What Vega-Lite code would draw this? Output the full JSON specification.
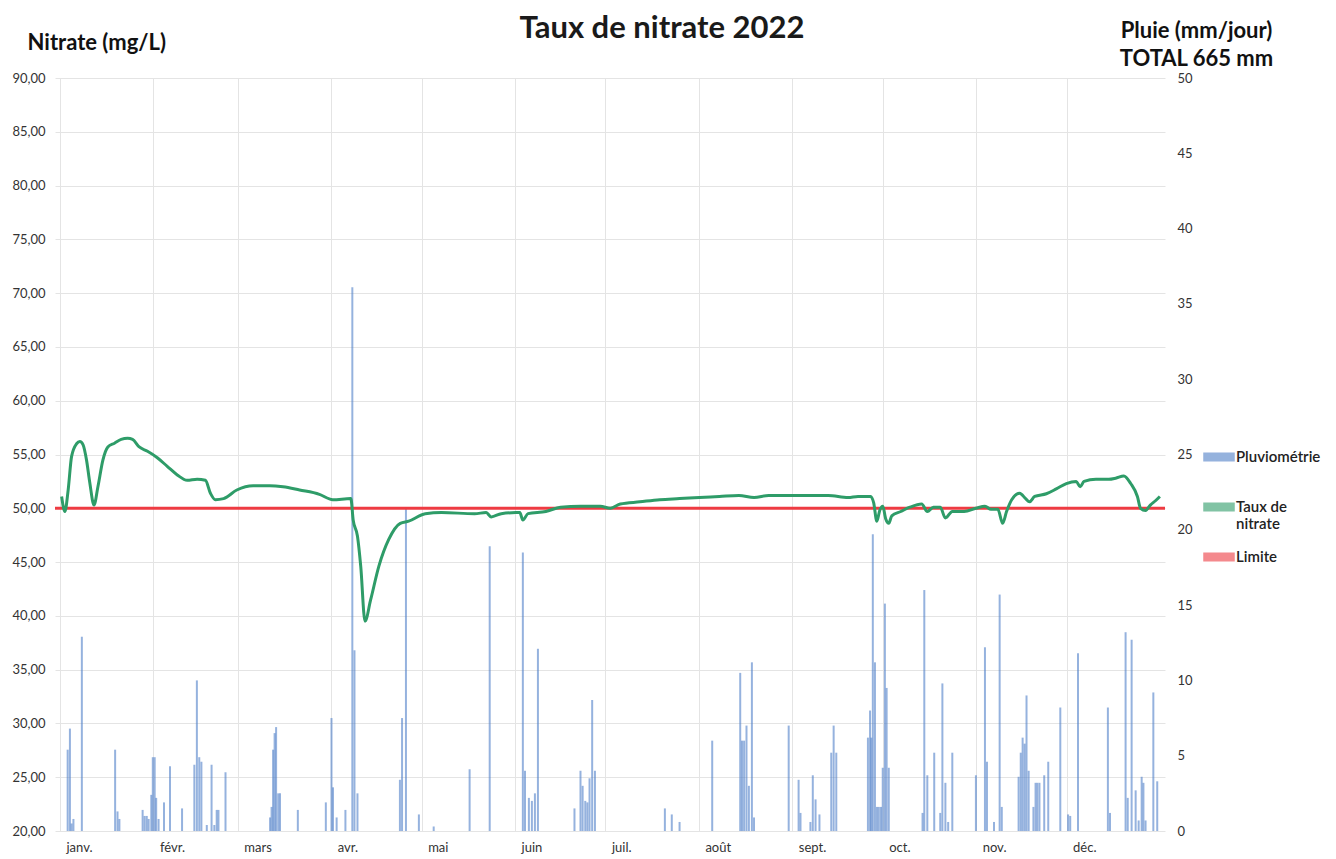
{
  "$schema": "https://vega.github.io/schema/vega-lite/v6.json",
  "width": 1110,
  "height": 753,
  "autosize": {"type": "none"},
  "padding": {"left": 55, "top": 78, "right": 171, "bottom": 28},
  "background": "white",
  "config": {
    "font": "Lato",
    "view": {"stroke": null},
    "axis": {"labelFont": "Lato", "titleFont": "Lato"}
  },
  "title": {
    "text": "Taux de nitrate 2022",
    "font": "Lato",
    "fontSize": 31,
    "fontWeight": "bold",
    "color": "#1a1a1a",
    "anchor": "middle",
    "frame": "group",
    "dx": 52,
    "dy": 36,
    "offset": 10
  },
  "datasets": {
    "pluie": [
      {"date": "2022-01-03T13:00", "mm": 5.4},
      {"date": "2022-01-04T07:00", "mm": 6.8},
      {"date": "2022-01-04T20:00", "mm": 0.5},
      {"date": "2022-01-05T11:00", "mm": 0.8},
      {"date": "2022-01-08T06:00", "mm": 12.9},
      {"date": "2022-01-19T07:00", "mm": 5.4},
      {"date": "2022-01-20T02:00", "mm": 1.3},
      {"date": "2022-01-20T17:00", "mm": 0.8},
      {"date": "2022-01-28T10:00", "mm": 1.4},
      {"date": "2022-01-29T02:00", "mm": 1.0},
      {"date": "2022-01-29T19:00", "mm": 1.0},
      {"date": "2022-01-30T10:00", "mm": 0.8},
      {"date": "2022-01-31T07:00", "mm": 2.4},
      {"date": "2022-01-31T19:00", "mm": 4.9},
      {"date": "2022-02-01T10:00", "mm": 4.9},
      {"date": "2022-02-01T22:00", "mm": 2.2},
      {"date": "2022-02-02T17:00", "mm": 0.8},
      {"date": "2022-02-04T12:00", "mm": 1.9},
      {"date": "2022-02-06T12:00", "mm": 4.3},
      {"date": "2022-02-10T12:00", "mm": 1.5},
      {"date": "2022-02-14T14:00", "mm": 4.4},
      {"date": "2022-02-15T10:00", "mm": 10.0},
      {"date": "2022-02-16T05:00", "mm": 4.9},
      {"date": "2022-02-16T22:00", "mm": 4.6},
      {"date": "2022-02-18T17:00", "mm": 0.4},
      {"date": "2022-02-20T07:00", "mm": 4.4},
      {"date": "2022-02-21T05:00", "mm": 0.4},
      {"date": "2022-02-22T00:00", "mm": 1.4},
      {"date": "2022-02-22T14:00", "mm": 1.4},
      {"date": "2022-02-24T22:00", "mm": 3.9},
      {"date": "2022-03-11T17:00", "mm": 0.9},
      {"date": "2022-03-12T05:00", "mm": 1.6},
      {"date": "2022-03-12T17:00", "mm": 5.4},
      {"date": "2022-03-13T05:00", "mm": 6.5},
      {"date": "2022-03-13T17:00", "mm": 6.9},
      {"date": "2022-03-14T10:00", "mm": 2.5},
      {"date": "2022-03-15T00:00", "mm": 2.5},
      {"date": "2022-03-20T22:00", "mm": 1.4},
      {"date": "2022-03-30T05:00", "mm": 1.9},
      {"date": "2022-04-01T02:00", "mm": 7.5},
      {"date": "2022-04-01T14:00", "mm": 2.9},
      {"date": "2022-04-02T19:00", "mm": 0.9},
      {"date": "2022-04-05T17:00", "mm": 1.4},
      {"date": "2022-04-08T00:00", "mm": 36.1},
      {"date": "2022-04-08T17:00", "mm": 12.0},
      {"date": "2022-04-09T17:00", "mm": 2.5},
      {"date": "2022-04-23T19:00", "mm": 3.4},
      {"date": "2022-04-24T12:00", "mm": 7.5},
      {"date": "2022-04-25T19:00", "mm": 21.4},
      {"date": "2022-04-30T02:00", "mm": 1.1},
      {"date": "2022-05-05T00:00", "mm": 0.3},
      {"date": "2022-05-16T22:00", "mm": 4.1},
      {"date": "2022-05-23T14:00", "mm": 18.9},
      {"date": "2022-06-03T14:00", "mm": 18.5},
      {"date": "2022-06-04T07:00", "mm": 4.0},
      {"date": "2022-06-05T14:00", "mm": 2.2},
      {"date": "2022-06-06T14:00", "mm": 2.0},
      {"date": "2022-06-07T14:00", "mm": 2.5},
      {"date": "2022-06-08T14:00", "mm": 12.1},
      {"date": "2022-06-20T17:00", "mm": 1.5},
      {"date": "2022-06-22T17:00", "mm": 4.0},
      {"date": "2022-06-23T10:00", "mm": 3.0},
      {"date": "2022-06-24T07:00", "mm": 2.0},
      {"date": "2022-06-25T00:00", "mm": 1.9},
      {"date": "2022-06-25T17:00", "mm": 3.5},
      {"date": "2022-06-26T14:00", "mm": 8.7},
      {"date": "2022-06-27T12:00", "mm": 4.0},
      {"date": "2022-07-20T17:00", "mm": 1.5},
      {"date": "2022-07-23T00:00", "mm": 1.1},
      {"date": "2022-07-25T14:00", "mm": 0.6},
      {"date": "2022-08-05T10:00", "mm": 6.0},
      {"date": "2022-08-14T17:00", "mm": 10.5},
      {"date": "2022-08-15T07:00", "mm": 6.0},
      {"date": "2022-08-16T00:00", "mm": 6.0},
      {"date": "2022-08-16T19:00", "mm": 7.0},
      {"date": "2022-08-17T14:00", "mm": 3.0},
      {"date": "2022-08-18T14:00", "mm": 11.2},
      {"date": "2022-08-19T07:00", "mm": 0.9},
      {"date": "2022-08-30T19:00", "mm": 7.0},
      {"date": "2022-09-03T02:00", "mm": 3.4},
      {"date": "2022-09-03T17:00", "mm": 1.2},
      {"date": "2022-09-07T00:00", "mm": 0.6},
      {"date": "2022-09-07T19:00", "mm": 3.7},
      {"date": "2022-09-08T17:00", "mm": 2.1},
      {"date": "2022-09-10T00:00", "mm": 1.1},
      {"date": "2022-09-13T22:00", "mm": 5.2},
      {"date": "2022-09-14T17:00", "mm": 7.0},
      {"date": "2022-09-15T14:00", "mm": 5.2},
      {"date": "2022-09-26T02:00", "mm": 6.2},
      {"date": "2022-09-26T19:00", "mm": 8.0},
      {"date": "2022-09-27T05:00", "mm": 6.2},
      {"date": "2022-09-27T17:00", "mm": 19.7},
      {"date": "2022-09-28T10:00", "mm": 11.2},
      {"date": "2022-09-29T02:00", "mm": 1.6},
      {"date": "2022-09-29T17:00", "mm": 1.6},
      {"date": "2022-09-30T10:00", "mm": 1.6},
      {"date": "2022-10-01T00:00", "mm": 4.2},
      {"date": "2022-10-01T17:00", "mm": 15.1},
      {"date": "2022-10-02T07:00", "mm": 9.5},
      {"date": "2022-10-03T00:00", "mm": 4.2},
      {"date": "2022-10-14T05:00", "mm": 1.2},
      {"date": "2022-10-14T19:00", "mm": 16.0},
      {"date": "2022-10-15T19:00", "mm": 3.7},
      {"date": "2022-10-18T02:00", "mm": 5.2},
      {"date": "2022-10-20T02:00", "mm": 1.2},
      {"date": "2022-10-20T19:00", "mm": 9.8},
      {"date": "2022-10-21T19:00", "mm": 3.2},
      {"date": "2022-10-22T17:00", "mm": 0.6},
      {"date": "2022-10-24T02:00", "mm": 5.2},
      {"date": "2022-10-31T22:00", "mm": 3.7},
      {"date": "2022-11-03T22:00", "mm": 12.2},
      {"date": "2022-11-04T14:00", "mm": 4.6},
      {"date": "2022-11-06T22:00", "mm": 0.6},
      {"date": "2022-11-08T19:00", "mm": 15.7},
      {"date": "2022-11-09T12:00", "mm": 1.6},
      {"date": "2022-11-15T02:00", "mm": 3.6},
      {"date": "2022-11-15T19:00", "mm": 5.2},
      {"date": "2022-11-16T10:00", "mm": 6.2},
      {"date": "2022-11-17T02:00", "mm": 5.8},
      {"date": "2022-11-17T17:00", "mm": 9.0},
      {"date": "2022-11-18T10:00", "mm": 4.0},
      {"date": "2022-11-20T00:00", "mm": 1.6},
      {"date": "2022-11-20T17:00", "mm": 3.2},
      {"date": "2022-11-21T07:00", "mm": 3.2},
      {"date": "2022-11-22T00:00", "mm": 3.2},
      {"date": "2022-11-23T14:00", "mm": 3.7},
      {"date": "2022-11-24T22:00", "mm": 4.6},
      {"date": "2022-11-28T22:00", "mm": 8.2},
      {"date": "2022-12-01T12:00", "mm": 1.1},
      {"date": "2022-12-02T05:00", "mm": 1.0},
      {"date": "2022-12-04T19:00", "mm": 11.8},
      {"date": "2022-12-14T17:00", "mm": 8.2},
      {"date": "2022-12-15T10:00", "mm": 1.2},
      {"date": "2022-12-20T14:00", "mm": 13.2},
      {"date": "2022-12-21T07:00", "mm": 2.2},
      {"date": "2022-12-22T14:00", "mm": 12.7},
      {"date": "2022-12-23T22:00", "mm": 2.7},
      {"date": "2022-12-24T22:00", "mm": 0.7},
      {"date": "2022-12-25T22:00", "mm": 3.6},
      {"date": "2022-12-26T12:00", "mm": 3.2},
      {"date": "2022-12-27T05:00", "mm": 0.7},
      {"date": "2022-12-29T19:00", "mm": 9.2},
      {"date": "2022-12-31T02:00", "mm": 3.3}
    ],
    "nitrate": [
      {"date": "2022-01-01T13:00", "nitrate": 51.1},
      {"date": "2022-01-02T15:00", "nitrate": 49.7},
      {"date": "2022-01-03T17:00", "nitrate": 51.7},
      {"date": "2022-01-04T20:00", "nitrate": 54.8},
      {"date": "2022-01-06T12:00", "nitrate": 56.0},
      {"date": "2022-01-07T14:00", "nitrate": 56.2},
      {"date": "2022-01-08T16:00", "nitrate": 55.9},
      {"date": "2022-01-09T19:00", "nitrate": 54.5},
      {"date": "2022-01-10T21:00", "nitrate": 52.4},
      {"date": "2022-01-12T07:00", "nitrate": 50.3},
      {"date": "2022-01-13T14:00", "nitrate": 52.0},
      {"date": "2022-01-15T06:00", "nitrate": 54.5},
      {"date": "2022-01-16T21:00", "nitrate": 55.7},
      {"date": "2022-01-19T02:00", "nitrate": 56.05},
      {"date": "2022-01-21T07:00", "nitrate": 56.4},
      {"date": "2022-01-23T11:00", "nitrate": 56.5},
      {"date": "2022-01-25T02:00", "nitrate": 56.4},
      {"date": "2022-01-27T07:00", "nitrate": 55.7},
      {"date": "2022-01-30T01:00", "nitrate": 55.3},
      {"date": "2022-02-02T07:00", "nitrate": 54.7},
      {"date": "2022-02-05T14:00", "nitrate": 53.9},
      {"date": "2022-02-08T22:00", "nitrate": 53.1},
      {"date": "2022-02-12T05:00", "nitrate": 52.6},
      {"date": "2022-02-15T12:00", "nitrate": 52.7},
      {"date": "2022-02-18T06:00", "nitrate": 52.6},
      {"date": "2022-02-19T22:00", "nitrate": 51.4},
      {"date": "2022-02-21T13:00", "nitrate": 50.8},
      {"date": "2022-02-24T07:00", "nitrate": 50.9},
      {"date": "2022-02-28T16:00", "nitrate": 51.7},
      {"date": "2022-03-06T02:00", "nitrate": 52.1},
      {"date": "2022-03-11T14:00", "nitrate": 52.1},
      {"date": "2022-03-16T00:00", "nitrate": 52.0},
      {"date": "2022-03-21T12:00", "nitrate": 51.7},
      {"date": "2022-03-28T02:00", "nitrate": 51.3},
      {"date": "2022-04-01T12:00", "nitrate": 50.8},
      {"date": "2022-04-07T12:00", "nitrate": 50.9},
      {"date": "2022-04-08T07:00", "nitrate": 48.9},
      {"date": "2022-04-09T17:00", "nitrate": 47.4},
      {"date": "2022-04-10T19:00", "nitrate": 44.6},
      {"date": "2022-04-12T05:00", "nitrate": 39.5},
      {"date": "2022-04-14T02:00", "nitrate": 41.5},
      {"date": "2022-04-16T19:00", "nitrate": 44.6},
      {"date": "2022-04-20T02:00", "nitrate": 47.1},
      {"date": "2022-04-23T22:00", "nitrate": 48.6},
      {"date": "2022-04-26T17:00", "nitrate": 48.8},
      {"date": "2022-05-02T05:00", "nitrate": 49.5},
      {"date": "2022-05-07T14:00", "nitrate": 49.6},
      {"date": "2022-05-18T14:00", "nitrate": 49.5},
      {"date": "2022-05-22T10:00", "nitrate": 49.6},
      {"date": "2022-05-24T02:00", "nitrate": 49.2},
      {"date": "2022-05-27T10:00", "nitrate": 49.5},
      {"date": "2022-06-01T07:00", "nitrate": 49.6},
      {"date": "2022-06-02T14:00", "nitrate": 49.6},
      {"date": "2022-06-03T14:00", "nitrate": 48.9},
      {"date": "2022-06-05T07:00", "nitrate": 49.5},
      {"date": "2022-06-11T05:00", "nitrate": 49.7},
      {"date": "2022-06-16T02:00", "nitrate": 50.1},
      {"date": "2022-06-22T17:00", "nitrate": 50.2},
      {"date": "2022-06-29T07:00", "nitrate": 50.2},
      {"date": "2022-07-02T14:00", "nitrate": 50.0},
      {"date": "2022-07-05T22:00", "nitrate": 50.4},
      {"date": "2022-07-12T10:00", "nitrate": 50.6},
      {"date": "2022-07-19T00:00", "nitrate": 50.8},
      {"date": "2022-07-25T14:00", "nitrate": 50.9},
      {"date": "2022-08-01T05:00", "nitrate": 51.0},
      {"date": "2022-08-07T19:00", "nitrate": 51.1},
      {"date": "2022-08-14T07:00", "nitrate": 51.2},
      {"date": "2022-08-19T07:00", "nitrate": 51.0},
      {"date": "2022-08-24T05:00", "nitrate": 51.2},
      {"date": "2022-09-03T02:00", "nitrate": 51.2},
      {"date": "2022-09-12T22:00", "nitrate": 51.2},
      {"date": "2022-09-19T12:00", "nitrate": 51.0},
      {"date": "2022-09-22T19:00", "nitrate": 51.1},
      {"date": "2022-09-27T00:00", "nitrate": 51.1},
      {"date": "2022-09-28T00:00", "nitrate": 50.5},
      {"date": "2022-09-29T01:00", "nitrate": 48.8},
      {"date": "2022-09-30T00:00", "nitrate": 49.8},
      {"date": "2022-10-01T00:00", "nitrate": 50.2},
      {"date": "2022-10-02T00:00", "nitrate": 49.0},
      {"date": "2022-10-03T00:00", "nitrate": 48.6},
      {"date": "2022-10-04T00:00", "nitrate": 49.3},
      {"date": "2022-10-07T00:00", "nitrate": 49.7},
      {"date": "2022-10-10T00:00", "nitrate": 50.1},
      {"date": "2022-10-13T22:00", "nitrate": 50.4},
      {"date": "2022-10-15T19:00", "nitrate": 49.7},
      {"date": "2022-10-17T19:00", "nitrate": 50.1},
      {"date": "2022-10-20T02:00", "nitrate": 50.1},
      {"date": "2022-10-21T19:00", "nitrate": 49.1},
      {"date": "2022-10-24T02:00", "nitrate": 49.7},
      {"date": "2022-10-28T00:00", "nitrate": 49.7},
      {"date": "2022-10-31T22:00", "nitrate": 50.0},
      {"date": "2022-11-03T22:00", "nitrate": 50.2},
      {"date": "2022-11-05T22:00", "nitrate": 49.9},
      {"date": "2022-11-08T05:00", "nitrate": 49.9},
      {"date": "2022-11-09T19:00", "nitrate": 48.6},
      {"date": "2022-11-11T02:00", "nitrate": 49.7},
      {"date": "2022-11-12T19:00", "nitrate": 50.8},
      {"date": "2022-11-15T10:00", "nitrate": 51.4},
      {"date": "2022-11-17T10:00", "nitrate": 50.9},
      {"date": "2022-11-18T17:00", "nitrate": 50.6},
      {"date": "2022-11-20T10:00", "nitrate": 51.1},
      {"date": "2022-11-24T07:00", "nitrate": 51.35},
      {"date": "2022-11-27T14:00", "nitrate": 51.8},
      {"date": "2022-11-30T22:00", "nitrate": 52.3},
      {"date": "2022-12-04T05:00", "nitrate": 52.5},
      {"date": "2022-12-05T12:00", "nitrate": 52.0},
      {"date": "2022-12-06T19:00", "nitrate": 52.5},
      {"date": "2022-12-10T18:00", "nitrate": 52.7},
      {"date": "2022-12-15T00:00", "nitrate": 52.7},
      {"date": "2022-12-17T07:00", "nitrate": 52.8},
      {"date": "2022-12-20T00:00", "nitrate": 53.0},
      {"date": "2022-12-22T07:00", "nitrate": 52.3},
      {"date": "2022-12-24T12:00", "nitrate": 51.1},
      {"date": "2022-12-25T13:00", "nitrate": 50.0},
      {"date": "2022-12-27T05:00", "nitrate": 49.8},
      {"date": "2022-12-28T19:00", "nitrate": 50.3},
      {"date": "2022-12-30T12:00", "nitrate": 50.7},
      {"date": "2022-12-31T23:00", "nitrate": 51.1}
    ],
    "limite": [{"valeur": 50}]
  },
  "layer": [
    {
      "data": {"name": "pluie"},
      "mark": {"type": "bar", "size": 2, "opacity": 0.6},
      "encoding": {
        "x": {
          "field": "date",
          "type": "temporal",
          "title": null,
          "scale": {"domain": [{"year": 2022, "month": 1, "date": 1}, {"year": 2023, "month": 1, "date": 1}]},
          "axis": {
            "values": [
              {"year": 2022, "month": 1, "date": 1}, {"year": 2022, "month": 2, "date": 1},
              {"year": 2022, "month": 3, "date": 1}, {"year": 2022, "month": 4, "date": 1},
              {"year": 2022, "month": 5, "date": 1}, {"year": 2022, "month": 6, "date": 1},
              {"year": 2022, "month": 7, "date": 1}, {"year": 2022, "month": 8, "date": 1},
              {"year": 2022, "month": 9, "date": 1}, {"year": 2022, "month": 10, "date": 1},
              {"year": 2022, "month": 11, "date": 1}, {"year": 2022, "month": 12, "date": 1}
            ],
            "labelExpr": "['janv.','févr.','mars','avr.','mai','juin','juil.','août','sept.','oct.','nov.','déc.'][month(datum.value)]",
            "labelAlign": "left",
            "labelOffset": 6,
            "labelPadding": 10,
            "labelFontSize": 13,
            "labelColor": "#333333",
            "ticks": false,
            "domain": false,
            "grid": true,
            "gridColor": "#e4e4e4",
            "gridWidth": 1
          }
        },
        "y": {
          "field": "mm",
          "type": "quantitative",
          "scale": {"domain": [0, 50]},
          "axis": {
            "orient": "right",
            "title": ["Pluie (mm/jour)", "TOTAL 665 mm"],
            "titleAngle": 0,
            "titleAlign": "center",
            "titleBaseline": "alphabetic",
            "titleX": 31,
            "titleY": -41,
            "titleLineHeight": 28,
            "titleFontSize": 22,
            "titleFontWeight": "bold",
            "titleColor": "#111111",
            "values": [0, 5, 10, 15, 20, 25, 30, 35, 40, 45, 50],
            "labelFontSize": 13,
            "labelColor": "#333333",
            "labelPadding": 12,
            "ticks": false,
            "domain": false,
            "grid": false
          }
        },
        "color": {
          "datum": "Pluviométrie",
          "type": "nominal",
          "scale": {
            "domain": ["Pluviométrie", "Taux de nitrate", "Limite"],
            "range": ["#4f7fc8", "#2e9c68", "#ee3b42"]
          },
          "legend": {
            "orient": "none",
            "legendX": 1148,
            "legendY": 368,
            "title": null,
            "labelFont": "Lato",
            "labelFontSize": 15,
            "labelFontWeight": 600,
            "labelColor": "#222222",
            "labelBaseline": "alphabetic",
            "labelOffset": 1,
            "labelExpr": "datum.label == 'Taux de nitrate' ? ['Taux de', 'nitrate'] : [datum.label, '']",
            "symbolType": "M-1,-0.58H1V-0.08H-1Z",
            "symbolSize": 900,
            "rowPadding": 14,
            "encode": {
              "symbols": {
                "update": {
                  "shape": {"signal": "datum.value == 'Pluviométrie' ? 'M-1,-0.58H1V-0.08H-1Z' : 'M-1,-0.41H1V-0.25H-1Z'"},
                  "fill": {"signal": "datum.value == 'Pluviométrie' ? '#3f7ed4' : datum.value == 'Limite' ? '#f0636b' : '#5bbd95'"},
                  "opacity": {"value": 1},
                  "fillOpacity": {"value": 1},
                  "strokeWidth": {"value": 0}
                }
              }
            }
          }
        }
      }
    },
    {
      "layer": [
        {
          "data": {"name": "limite"},
          "mark": {"type": "rule", "strokeWidth": 3},
          "encoding": {
            "y": {"field": "valeur", "type": "quantitative", "title": "Nitrate (mg/L)", "scale": {"domain": [20, 90]}},
            "color": {"datum": "Limite", "type": "nominal"}
          }
        },
        {
          "data": {"name": "nitrate"},
          "mark": {"type": "line", "strokeWidth": 3, "interpolate": "monotone"},
          "encoding": {
            "x": {"field": "date", "type": "temporal", "title": null},
            "y": {
              "field": "nitrate",
              "type": "quantitative",
              "title": "Nitrate (mg/L)",
              "scale": {"domain": [20, 90]},
              "axis": {
                "orient": "left",
                "titleAngle": 0,
                "titleAlign": "left",
                "titleBaseline": "alphabetic",
                "titleX": -28,
                "titleY": -29,
                "titleFontSize": 22,
                "titleFontWeight": "bold",
                "titleColor": "#111111",
                "values": [20, 25, 30, 35, 40, 45, 50, 55, 60, 65, 70, 75, 80, 85, 90],
                "labelExpr": "replace(format(datum.value, '.2f'), '.', ',')",
                "labelFontSize": 13,
                "labelColor": "#333333",
                "labelPadding": 10,
                "ticks": false,
                "domain": false,
                "grid": true,
                "gridColor": "#e4e4e4"
              }
            },
            "color": {"datum": "Taux de nitrate", "type": "nominal"}
          }
        }
      ]
    }
  ],
  "resolve": {"scale": {"y": "independent"}, "axis": {"y": "independent"}}
}
